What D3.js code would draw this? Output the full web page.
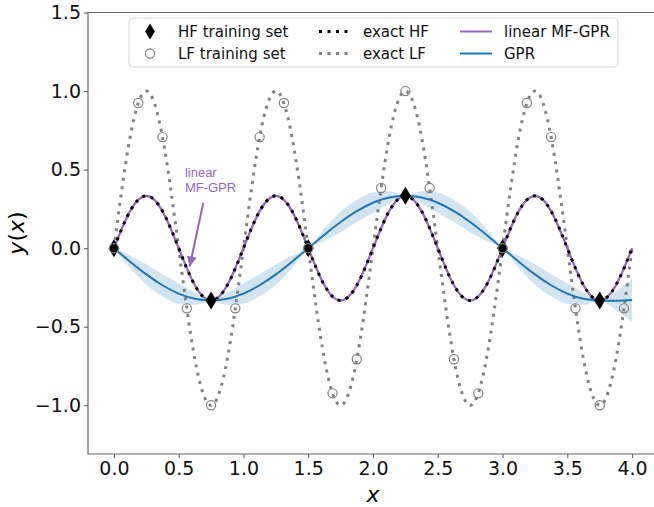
<!DOCTYPE html>
<html>
<head>
<meta charset="utf-8">
<script src="https://cdn.jsdelivr.net/npm/d3@7"></script>
<style>
  body { margin: 0; background: #fff; }
  svg { display: block; }
</style>
</head>
<body>
<svg id="chart" width="654" height="507"></svg>
<script>
// 曲线采样点
const xGrid = [0, 0.125, 0.25, 0.375, 0.5, 0.625, 0.75, 0.875, 1, 1.125, 1.25, 1.375, 1.5, 1.625, 1.75, 1.875,
    2, 2.125, 2.25, 2.375, 2.5, 2.625, 2.75, 2.875, 3, 3.125, 3.25, 3.375, 3.5, 3.625, 3.75, 3.875, 4]

// exact LF
const lfExact = [0, 0.707, 1, 0.707, 0, -0.707, -1, -0.707, 0, 0.707, 1, 0.707, 0, -0.707, -1, -0.707,
    0, 0.707, 1, 0.707, 0, -0.707, -1, -0.707, 0, 0.707, 1, 0.707, 0, -0.707, -1, -0.707, 0]

// exact HF
const hfExact = [0, 0.236, 0.333, 0.236, 0, -0.236, -0.333, -0.236, 0, 0.236, 0.333, 0.236, 0, -0.236, -0.333, -0.236,
    0, 0.236, 0.333, 0.236, 0, -0.236, -0.333, -0.236, 0, 0.236, 0.333, 0.236, 0, -0.236, -0.333, -0.236, 0]

// linear MF-GPR
const mfGpr = [0, 0.236, 0.333, 0.236, 0, -0.236, -0.333, -0.236, 0, 0.236, 0.333, 0.236, 0, -0.236, -0.333, -0.236,
    0, 0.236, 0.333, 0.236, 0, -0.236, -0.333, -0.236, 0, 0.236, 0.333, 0.236, 0, -0.236, -0.333, -0.236, 0]

// GPR 均值与置信带半宽
const gprMean = [0, -0.086, -0.167, -0.236, -0.289, -0.322, -0.333, -0.322, -0.289, -0.236, -0.167, -0.086, 0,
    0.086, 0.167, 0.236, 0.289, 0.322, 0.333, 0.322, 0.289, 0.236, 0.167, 0.086, 0,
    -0.086, -0.167, -0.236, -0.289, -0.322, -0.333, -0.335, -0.33]
const gprBand = [0, 0.04, 0.065, 0.07, 0.065, 0.04, 0, 0.04, 0.065, 0.07, 0.065, 0.04, 0,
    0.04, 0.065, 0.07, 0.065, 0.04, 0, 0.04, 0.065, 0.07, 0.065, 0.04, 0,
    0.04, 0.065, 0.07, 0.065, 0.04, 0, 0.06, 0.137]

// 训练集
const hfTrainX = [0, 0.75, 1.5, 2.25, 3, 3.75]
const hfTrainY = [0, -0.333, 0, 0.333, 0, -0.333]
const lfTrainX = [0, 0.1875, 0.375, 0.5625, 0.75, 0.9375, 1.125, 1.3125, 1.5, 1.6875, 1.875, 2.0625,
    2.25, 2.4375, 2.625, 2.8125, 3, 3.1875, 3.375, 3.5625, 3.75, 3.9375]
const lfTrainY = [0, 0.924, 0.707, -0.383, -1, -0.383, 0.707, 0.924, 0, -0.924, -0.707, 0.383,
    1, 0.383, -0.707, -0.924, 0, 0.924, 0.707, -0.383, -1, -0.383]

// 刻度
const xTicks = [0, 0.5, 1, 1.5, 2, 2.5, 3, 3.5, 4]
const yTicks = [-1, -0.5, 0, 0.5, 1, 1.5]

const legendItems = [
    { label: 'HF training set', type: 'diamond' },
    { label: 'LF training set', type: 'circle' },
    { label: 'exact HF', type: 'dot', color: '#000' },
    { label: 'exact LF', type: 'dot', color: '#808080' },
    { label: 'linear MF-GPR', type: 'line', color: '#9467bd' },
    { label: 'GPR', type: 'line', color: '#1f77b4' }
]

const style = {
    plot: { left: 88, right: 658, top: 12.5, bottom: 454 },
    tickFont: 19,
    purple: '#9467bd',
    blue: '#1f77b4',
    grey: '#808080'
}

const svg = d3.select('#chart')
const x = d3.scaleLinear().domain([-0.2, 4.2]).range([style.plot.left, style.plot.right])
const y = d3.scaleLinear().domain([-1.31, 1.5]).range([style.plot.bottom, style.plot.top])

svg.append('defs').append('clipPath').attr('id', 'clip')
    .append('rect')
    .attr('x', style.plot.left).attr('y', style.plot.top)
    .attr('width', style.plot.right - style.plot.left)
    .attr('height', style.plot.bottom - style.plot.top)

const plot = svg.append('g').attr('clip-path', 'url(#clip)')

const pts = (ys) => xGrid.map((d, i) => [d, ys[i]])

// 置信带
const band = xGrid.map((d, i) => ({ x: d, lo: gprMean[i] - gprBand[i], hi: gprMean[i] + gprBand[i] }))
plot.append('path')
    .datum(band)
    .attr('d', d3.area().x((d) => x(d.x)).y0((d) => y(d.lo)).y1((d) => y(d.hi)).curve(d3.curveMonotoneX))
    .attr('fill', style.blue)
    .attr('fill-opacity', 0.2)

const lineGen = d3.line().x((d) => x(d[0])).y((d) => y(d[1])).curve(d3.curveNatural)

// exact LF
plot.append('path')
    .datum(pts(lfExact))
    .attr('d', lineGen)
    .attr('fill', 'none')
    .attr('stroke', style.grey)
    .attr('stroke-width', 3)
    .attr('stroke-dasharray', '3,5.5')

// linear MF-GPR
plot.append('path')
    .datum(pts(mfGpr))
    .attr('d', lineGen)
    .attr('fill', 'none')
    .attr('stroke', style.purple)
    .attr('stroke-width', 2.2)

// exact HF
plot.append('path')
    .datum(pts(hfExact))
    .attr('d', lineGen)
    .attr('fill', 'none')
    .attr('stroke', '#000')
    .attr('stroke-width', 3)
    .attr('stroke-dasharray', '3,5.5')

// GPR
plot.append('path')
    .datum(pts(gprMean))
    .attr('d', lineGen)
    .attr('fill', 'none')
    .attr('stroke', style.blue)
    .attr('stroke-width', 2)

const diamond = 'M0,-9L5.5,0L0,9L-5.5,0Z'

// HF 训练点
plot.append('g').selectAll('path')
    .data(hfTrainX.map((d, i) => [d, hfTrainY[i]]))
    .join('path')
    .attr('d', diamond)
    .attr('transform', (d) => `translate(${x(d[0])},${y(d[1])})`)
    .attr('fill', '#000')

// LF 训练点
plot.append('g').selectAll('circle')
    .data(lfTrainX.map((d, i) => [d, lfTrainY[i]]))
    .join('circle')
    .attr('cx', (d) => x(d[0]))
    .attr('cy', (d) => y(d[1]))
    .attr('r', 4.6)
    .attr('fill', 'none')
    .attr('stroke', style.grey)
    .attr('stroke-width', 1.2)

// 坐标轴
const xAxis = svg.append('g')
    .attr('transform', `translate(0,${style.plot.bottom})`)
    .call(d3.axisBottom(x).tickValues(xTicks).tickFormat(d3.format('.1f')).tickSize(4).tickPadding(4))
const yAxis = svg.append('g')
    .attr('transform', `translate(${style.plot.left},0)`)
    .call(d3.axisLeft(y).tickValues(yTicks).tickFormat((d) => d3.format('.1f')(d).replace('-', '\u2212')).tickSize(4).tickPadding(3))

for (const ax of [xAxis, yAxis]) {
    ax.select('.domain').remove()
    ax.selectAll('line').attr('stroke', '#555').attr('stroke-width', 1)
    ax.selectAll('text')
        .attr('font-family', 'DejaVu Sans')
        .attr('font-size', style.tickFont)
        .attr('fill', '#111')
}

// 边框 (右边超出画面)
svg.append('path')
    .attr('d', `M${style.plot.right},${style.plot.top}H${style.plot.left}V${style.plot.bottom}H${style.plot.right}`)
    .attr('fill', 'none')
    .attr('stroke', '#666')
    .attr('stroke-width', 1.2)

// 轴标题
svg.append('text')
    .attr('x', 373).attr('y', 502)
    .attr('text-anchor', 'middle')
    .attr('font-family', 'DejaVu Sans')
    .attr('font-style', 'italic')
    .attr('font-size', 22)
    .text('x')

const yLabel = svg.append('text')
    .attr('transform', 'translate(24,233) rotate(-90)')
    .attr('text-anchor', 'middle')
    .attr('font-family', 'DejaVu Sans')
    .attr('font-size', 22)
yLabel.append('tspan').attr('font-style', 'italic').text('y')
yLabel.append('tspan').text('(')
yLabel.append('tspan').attr('font-style', 'italic').text('x')
yLabel.append('tspan').text(')')

// 注释
const note = { x: 0.548, y1: 0.454, y2: 0.355, from: [0.69, 0.289], to: [0.585, -0.117] }
svg.append('defs').append('marker')
    .attr('id', 'head')
    .attr('viewBox', '0 0 10 10')
    .attr('refX', 10).attr('refY', 5)
    .attr('markerWidth', 6).attr('markerHeight', 5)
    .attr('markerUnits', 'strokeWidth')
    .attr('orient', 'auto')
    .append('path')
    .attr('d', 'M0,0L10,5L0,10Z')
    .attr('fill', style.purple)
svg.append('line')
    .attr('x1', x(note.from[0])).attr('y1', y(note.from[1]))
    .attr('x2', x(note.to[0])).attr('y2', y(note.to[1]))
    .attr('stroke', style.purple)
    .attr('stroke-width', 2)
    .attr('marker-end', 'url(#head)')
const noteText = svg.append('g')
    .attr('font-family', 'Liberation Sans')
    .attr('font-size', 13)
    .attr('fill', style.purple)
noteText.append('text').attr('x', x(note.x)).attr('y', y(note.y1)).text('linear')
noteText.append('text').attr('x', x(note.x)).attr('y', y(note.y2)).text('MF-GPR')

// 图例
const legend = svg.append('g')
legend.append('rect')
    .attr('x', 129).attr('y', 18)
    .attr('width', 489).attr('height', 49)
    .attr('rx', 4)
    .attr('fill', 'white')
    .attr('fill-opacity', 0.85)
    .attr('stroke', '#d6d6d6')
    .attr('stroke-width', 1)

const colX = [133, 316, 457]
const rowY = [31.5, 53.5]
const item = legend.selectAll('g.item')
    .data(legendItems)
    .join('g')
    .attr('class', 'item')
    .attr('transform', (d, i) => `translate(${colX[Math.floor(i / 2)]},${rowY[i % 2]})`)

item.each(function (d) {
    const g = d3.select(this)
    if (d.type === 'diamond') {
        g.append('path').attr('d', diamond).attr('transform', 'translate(17,0) scale(0.9)').attr('fill', '#000')
    } else if (d.type === 'circle') {
        g.append('circle').attr('cx', 17).attr('r', 4.6).attr('fill', 'none').attr('stroke', style.grey).attr('stroke-width', 1.2)
    } else {
        g.append('line')
            .attr('x1', 3).attr('x2', 35)
            .attr('stroke', d.color)
            .attr('stroke-width', d.type === 'dot' ? 3 : 2)
            .attr('stroke-dasharray', d.type === 'dot' ? '3,5.5' : null)
    }
})

item.append('text')
    .text((d) => d.label)
    .attr('x', (d, i) => i < 2 ? 45 : 47)
    .attr('y', 5.3)
    .attr('font-family', 'DejaVu Sans')
    .attr('font-size', 15)
    .attr('fill', '#111')
</script>
</body>
</html>
